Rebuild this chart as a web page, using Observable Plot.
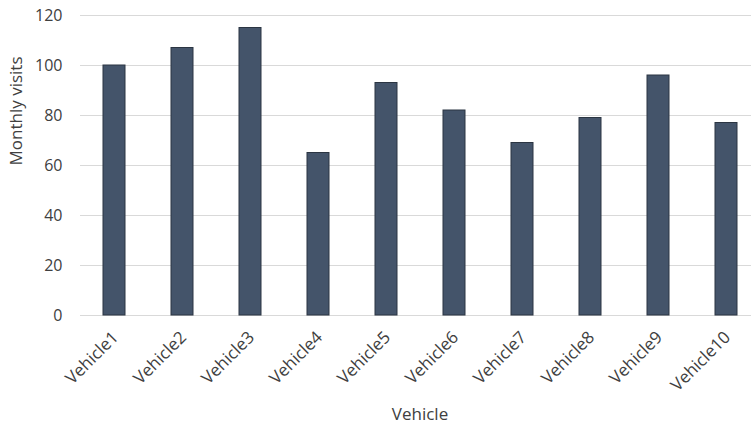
<!DOCTYPE html>
<html><head><meta charset="utf-8">
<script src="https://cdn.jsdelivr.net/npm/d3@7"></script>
<script src="https://cdn.jsdelivr.net/npm/@observablehq/plot@0.6"></script>
<style>body{margin:0;background:#fff;overflow:hidden}</style>
</head><body><div id="chart"></div>
<script>
const vehicles = ["Vehicle1","Vehicle2","Vehicle3","Vehicle4","Vehicle5","Vehicle6","Vehicle7","Vehicle8","Vehicle9","Vehicle10"];
const visits = [100, 107, 115, 65, 93, 82, 69, 79, 96, 77];
const yTicks = [0, 20, 40, 60, 80, 100, 120];
const xTitle = "Vehicle";
const yTitle = "Monthly visits";

const data = vehicles.map((v, i) => ({vehicle: v, visits: visits[i]}));

const chart = Plot.plot({
  width: 751, height: 431,
  marginTop: 15, marginBottom: 116, marginLeft: 80, marginRight: 0,
  style: {fontFamily: "'Open Sans', sans-serif", fontSize: "16px", color: "#404040", background: "#fff", overflow: "hidden"},
  x: {domain: vehicles, range: [80, 760], paddingInner: 0.676, paddingOuter: 0.338, align: 0.5, label: null},
  y: {domain: [0, 120], label: null},
  marks: [
    Plot.ruleY(yTicks, {stroke: "#d9d9d9", strokeWidth: 1}),
    Plot.barY(data, {x: "vehicle", y: "visits", fill: "#44546a", stroke: "#2b3542", strokeWidth: 1}),
    Plot.axisY({ticks: yTicks, tickSize: 0, tickPadding: 18, label: null, fontSize: 16}),
    Plot.axisX({tickSize: 0, tickRotate: -45, tickPadding: 19, dx: 1, label: null, fontSize: 17}),
    Plot.text([yTitle], {frameAnchor: "left", rotate: -90, dx: -64, fontSize: 17}),
    Plot.text([xTitle], {frameAnchor: "bottom", dy: 104, dx: 4, fontSize: 17})
  ]
});
document.getElementById("chart").append(chart);
</script>
</body></html>
